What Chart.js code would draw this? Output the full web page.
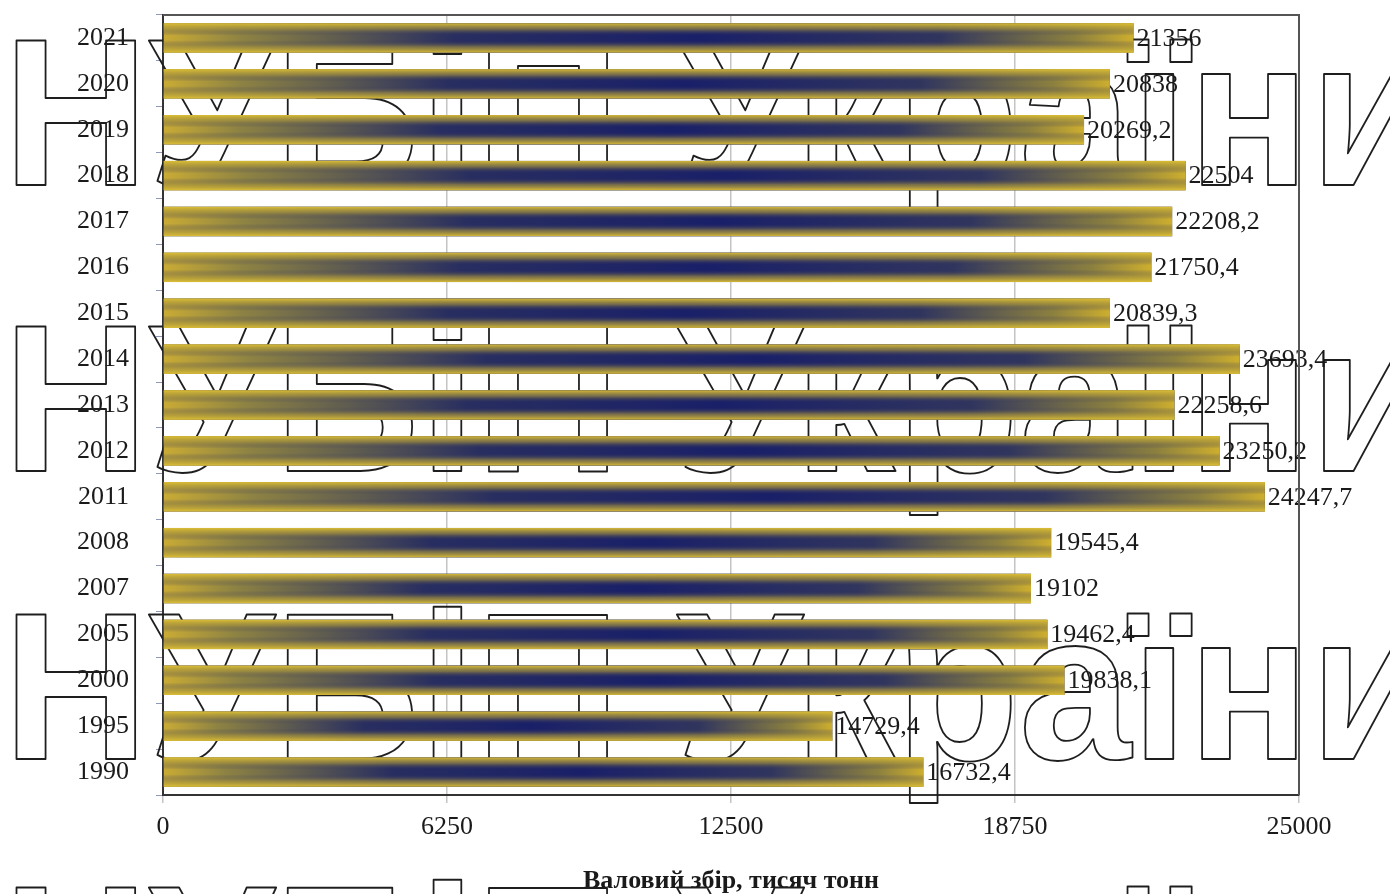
<!DOCTYPE html>
<html>
<head>
<meta charset="utf-8">
<script src="https://cdn.jsdelivr.net/npm/chart.js@4.4.0/dist/chart.umd.min.js"></script>
<style>
  html, body { margin: 0; padding: 0; background: #ffffff; }
  #wrap { width: 1390px; height: 894px; }
</style>
</head>
<body>
<div id="wrap"><canvas id="c" width="1390" height="894"></canvas></div>
<script>
// Potato harvest by year (thousand tonnes), listed top to bottom
const years = ['2021', '2020', '2019', '2018', '2017', '2016', '2015', '2014', '2013',
               '2012', '2011', '2008', '2007', '2005', '2000', '1995', '1990'];
const harvest = [21356, 20838, 20269.2, 22504, 22208.2, 21750.4, 20839.3, 23693.4, 22258.6,
                 23250.2, 24247.7, 19545.4, 19102, 19462.4, 19838.1, 14729.4, 16732.4];
const xTicks = [0, 6250, 12500, 18750, 25000];
const axisTitle = 'Валовий збір, тисяч тонн';
const watermarkText = 'НУБіП України';
const watermarkRows = [185, 471, 759, 1032];

const SERIF = "'Liberation Serif', 'DejaVu Serif', serif";
const fmt = v => String(v).replace('.', ',');

// Outlined watermark lettering behind the bars
const watermarkPlugin = {
  id: 'watermark',
  beforeDatasetsDraw(chart) {
    const ctx = chart.ctx;
    ctx.save();
    ctx.font = "bold 210px 'Liberation Sans', 'DejaVu Sans', sans-serif";
    ctx.textBaseline = 'alphabetic';
    ctx.textAlign = 'left';
    const prefixW = ctx.measureText('НУБіП Украї').width;
    const sx = 1185 / prefixW;
    ctx.strokeStyle = '#1e1e1e';
    ctx.lineJoin = 'round';
    watermarkRows.forEach(b => {
      ctx.save();
      ctx.translate(3, b);
      ctx.scale(sx, 1);
      ctx.lineWidth = 1.8 / sx;
      ctx.strokeText(watermarkText, 0, 0);
      ctx.restore();
    });
    ctx.restore();
  }
};

// Gold-edged navy gradient on each bar, value labels and the plot frame
const barStylePlugin = {
  id: 'barStyle',
  afterDatasetsDraw(chart) {
    const ctx = chart.ctx;
    const meta = chart.getDatasetMeta(0);
    ctx.save();
    meta.data.forEach(el => {
      const p = el.getProps(['x', 'y', 'base', 'height'], true);
      const left = Math.min(p.base, p.x), right = Math.max(p.base, p.x);
      const top = p.y - p.height / 2, h = p.height, w = right - left;

      const gh = ctx.createLinearGradient(left, 0, right, 0);
      gh.addColorStop(0, '#c9ab35');
      gh.addColorStop(0.08, '#8e8343');
      gh.addColorStop(0.3, '#282e60');
      gh.addColorStop(0.55, '#1a2068');
      gh.addColorStop(0.8, '#30355e');
      gh.addColorStop(0.94, '#8c803f');
      gh.addColorStop(1, '#cdae2e');
      ctx.fillStyle = gh;
      ctx.fillRect(left, top, w, h);

      const gv = ctx.createLinearGradient(0, top, 0, top + h);
      gv.addColorStop(0, 'rgba(222,192,52,0.95)');
      gv.addColorStop(0.2, 'rgba(160,142,62,0.65)');
      gv.addColorStop(0.42, 'rgba(40,44,100,0)');
      gv.addColorStop(0.58, 'rgba(40,44,100,0)');
      gv.addColorStop(0.8, 'rgba(160,142,62,0.65)');
      gv.addColorStop(1, 'rgba(222,192,52,0.95)');
      ctx.fillStyle = gv;
      ctx.fillRect(left, top, w, h);
    });

    ctx.font = '26px ' + SERIF;
    ctx.fillStyle = '#1a1a1a';
    ctx.textAlign = 'left';
    ctx.textBaseline = 'middle';
    meta.data.forEach((el, i) => {
      const p = el.getProps(['x', 'y'], true);
      ctx.fillText(fmt(harvest[i]), p.x + 3, p.y + 1);
    });

    const a = chart.chartArea;
    ctx.strokeStyle = '#555555';
    ctx.lineWidth = 2;
    ctx.beginPath();
    ctx.moveTo(a.left, a.top);
    ctx.lineTo(a.right, a.top);
    ctx.lineTo(a.right, a.bottom);
    ctx.stroke();
    ctx.restore();
  }
};

new Chart(document.getElementById('c'), {
  type: 'bar',
  data: {
    labels: years,
    datasets: [{
      data: harvest,
      backgroundColor: '#1a2068',
      borderWidth: 0,
      barPercentage: 0.64,
      categoryPercentage: 1
    }]
  },
  options: {
    indexAxis: 'y',
    responsive: false,
    animation: false,
    devicePixelRatio: 1,
    layout: { padding: { top: 15, right: 91, left: 0, bottom: 0 } },
    plugins: {
      legend: { display: false },
      tooltip: { enabled: false },
      title: { display: false }
    },
    scales: {
      x: {
        min: 0,
        max: 25000,
        afterBuildTicks: s => { s.ticks = xTicks.map(v => ({ value: v })); },
        afterFit: s => { s.height = 99; s.paddingLeft = 0; s.paddingRight = 0; },
        grid: { color: '#c4c4c4', lineWidth: 1.5, tickLength: 8, drawOnChartArea: true },
        border: { color: '#333333', width: 2 },
        ticks: {
          color: '#1a1a1a',
          font: { family: SERIF, size: 26 },
          padding: 9,
          maxRotation: 0,
          callback: v => String(v)
        },
        title: {
          display: true,
          text: axisTitle,
          color: '#1a1a1a',
          font: { family: SERIF, size: 26, weight: 'bold', lineHeight: 1 },
          padding: { top: 0, bottom: 0 }
        }
      },
      y: {
        afterFit: s => { s.width = 163; s.paddingTop = 0; s.paddingBottom = 0; },
        grid: { display: true, drawOnChartArea: false, tickLength: 7, color: '#8d98bb', offset: true },
        border: { color: '#333333', width: 2 },
        ticks: {
          color: '#1a1a1a',
          font: { family: SERIF, size: 26 },
          padding: 27
        }
      }
    }
  },
  plugins: [watermarkPlugin, barStylePlugin]
});
</script>
</body>
</html>
